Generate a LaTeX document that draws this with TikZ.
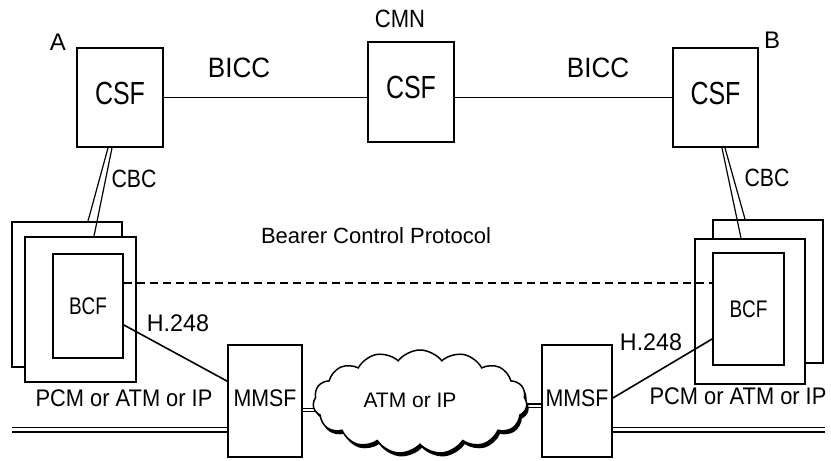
\documentclass[tikz,border=0pt]{standalone}
\usepackage{fontspec}
\setmainfont{Liberation Sans}
\usetikzlibrary{shapes.symbols,shadows,backgrounds,calc}
\newcommand{\sq}[2]{\scalebox{#1}[1]{#2}}
\begin{document}
\begin{tikzpicture}[x=1pt,y=-1pt,
  fs/.style={font=\fontsize{#1}{#1}\selectfont},
  box/.style={draw,line width=1.8pt,fill=white,inner sep=0pt},
  lab/.style={inner sep=0pt,anchor=center},
  conn/.style={line width=1.6pt},
  dbl/.style={line width=1.2pt},
  rail/.style={double,double distance=3.4pt,line width=1.3pt},
  link/.style={double,double distance=2pt,line width=1.2pt}]
\useasboundingbox (0,0) rectangle (831,461);
% call server functions
\node[box,fs=32,minimum width=86,minimum height=99,text height=23pt,text depth=10pt] (csfA) at (120,97.5) {\sq{0.78}{CSF}};
\node[box,fs=32,minimum width=86,minimum height=100,text height=23pt,text depth=10pt] (csfM) at (411,92) {\sq{0.78}{CSF}};
\node[box,fs=32,minimum width=85,minimum height=99,text height=23pt,text depth=10pt] (csfB) at (715.5,97.5) {\sq{0.78}{CSF}};
% BCF stacks
\node[box,minimum width=110,minimum height=145] (backL) at (67,294.5) {};
\node[box,minimum width=111,minimum height=145] (frontL) at (80.5,309.5) {};
\node[box,fs=24,minimum width=70,minimum height=104] (bcfL) at (88,306) {\sq{0.79}{BCF}};
\node[box,minimum width=110,minimum height=143] (backR) at (768,291.5) {};
\node[box,minimum width=110,minimum height=145] (frontR) at (750,311.5) {};
\node[box,fs=24,minimum width=71,minimum height=112] (bcfR) at (748.5,309) {\sq{0.79}{BCF}};
% MMSF
\node[box,fs=24,minimum width=74,minimum height=112,text height=17pt,text depth=6pt] (mmL) at (265,401) {\sq{0.89}{MMSF}};
\node[box,fs=24,minimum width=70,minimum height=112,text height=17pt,text depth=6pt] (mmR) at (577,401) {\sq{0.89}{MMSF}};
% cloud
\node[cloud,draw,line width=1.5pt,fill=white,cloud puffs=15,cloud puff arc=105,cloud ignores aspect,
  minimum width=214,minimum height=104,
  drop shadow={shadow xshift=2pt,shadow yshift=-3.5pt,fill=black,opacity=1}] (cloud) at (420,402) {};
\node[lab,fs=21] (ctext) at (410,400) {ATM or IP};
% labels
\node[lab,fs=24] (lA) at (58,42) {A};
\node[lab,fs=24] (lB) at (772,40) {B};
\node[lab,fs=25] (lCMN) at (400,19) {\sq{0.88}{CMN}};
\node[lab,fs=28] (bicc1) at (239,68) {\sq{0.93}{BICC}};
\node[lab,fs=28] (bicc2) at (598,68) {\sq{0.93}{BICC}};
\node[lab,fs=25] (cbcL) at (134,179) {\sq{0.85}{CBC}};
\node[lab,fs=25] (cbcR) at (767,178) {\sq{0.85}{CBC}};
\node[lab,fs=22] (bcp) at (376,236) {Bearer Control Protocol};
\node[lab,fs=24] (h1) at (178,323) {\sq{0.97}{H.248}};
\node[lab,fs=24] (h2) at (651,342) {\sq{0.97}{H.248}};
\node[lab,fs=24] (pcmL) at (124,398) {\sq{0.91}{PCM or ATM or IP}};
\node[lab,fs=24] (pcmR) at (738,396) {\sq{0.91}{PCM or ATM or IP}};
% BICC links
\draw[conn] (csfA.east) -- (csfA.east -| csfM.west);
\draw[conn] (csfM.east |- csfB.west) -- (csfB.west);
% CBC links
\draw[dbl] ([xshift=-12pt]csfA.south) -- ([xshift=21pt]backL.north);
\draw[dbl] ([xshift=-8pt]csfA.south) -- ([xshift=13.5pt]frontL.north);
\draw[dbl] ([xshift=9.5pt]csfB.south) -- ([xshift=-23pt]backR.north);
\draw[dbl] ([xshift=6.5pt]csfB.south) -- ([xshift=-9pt]frontR.north);
% bearer control protocol
\coordinate (dL) at ([yshift=23pt]bcfL.east);
\draw[line width=1.5pt,dash pattern=on 8pt off 5pt] (dL) -- (dL -| bcfR.west);
% H.248
\draw[conn] ([yshift=-19pt]bcfL.east) -- ([yshift=-37pt]mmL.north west);
\draw[conn] ([yshift=3pt]mmR.east) -- ([yshift=-30pt]bcfR.west);
% rails
\coordinate (railL) at (12,429.5);
\coordinate (railR) at (825,429.5);
\draw[rail] (railL) -- (railL -| mmL.west);
\draw[rail] (mmR.east |- railR) -- (railR);
% links to cloud
\coordinate (cl1) at ([yshift=-9pt]mmL.east);
\coordinate (cl2) at ([xshift=10pt]cloud.west);
\coordinate (cr1) at ([yshift=-4.5pt]mmR.west);
\coordinate (cr2) at ([xshift=-10pt]cloud.east);
\begin{scope}[on background layer]
\draw[link] (cl1) -- (cl1 -| cl2);
\draw[link] (cr2 |- cr1) -- (cr1);
\end{scope}
\end{tikzpicture}
\end{document}
